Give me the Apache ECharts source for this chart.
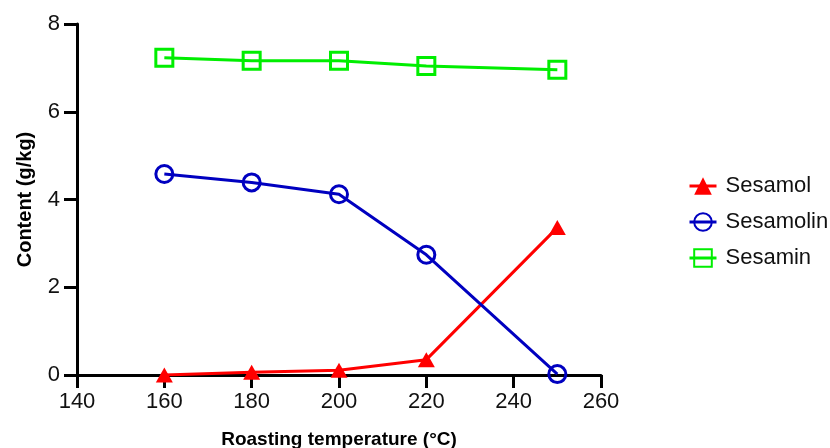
<!DOCTYPE html>
<html>
<head>
<meta charset="utf-8">
<script src="https://cdn.jsdelivr.net/npm/echarts@6/dist/echarts.min.js"></script>
<style>html,body{margin:0;padding:0;background:#fff;}#c{width:830px;height:448px;}</style>
</head>
<body>
<div id="c"></div>
<script>
const temperatures = [160, 180, 200, 220, 250];
const sesamol = [0.0, 0.06, 0.11, 0.35, 3.36];
const sesamolin = [4.58, 4.39, 4.12, 2.74, 0.02];
const sesamin = [7.23, 7.16, 7.16, 7.04, 6.96];
const seriesNames = ['Sesamol', 'Sesamolin', 'Sesamin'];
const xTitle = 'Roasting temperature (°C)';
const yTitle = 'Content (g/kg)';

const font = 'Liberation Sans, Arial, sans-serif';
const pairs = arr => temperatures.map((t, i) => [t, arr[i]]);

function mkSeries(name, data, color, symbol, size, filled) {
  return {
    name: name, type: 'line', data: pairs(data),
    symbol: symbol, symbolSize: size,
    lineStyle: { color: color, width: 3 },
    itemStyle: filled ? { color: color } : { color: 'rgba(255,255,255,0)', borderColor: color, borderWidth: 3 },
    emphasis: { disabled: true }, animation: false
  };
}

const chart = echarts.init(document.getElementById('c'));
chart.setOption({
  animation: false,
  grid: { left: 77, right: 229, top: 24, bottom: 73, containLabel: false, outerBoundsMode: 'none' },
  legend: {
    orient: 'vertical', left: 683, top: 170, itemGap: 14,
    itemWidth: 27, itemHeight: 22,
    lineStyle: { width: 3 },
    textStyle: { fontFamily: font, fontSize: 22, color: '#111', padding: [0, 0, 0, 4] },
    data: seriesNames
  },
  xAxis: {
    type: 'value', min: 140, max: 260, interval: 20,
    name: xTitle, nameLocation: 'middle', nameGap: 55,
    nameTextStyle: { fontFamily: font, fontSize: 19, fontWeight: 'bold', color: '#000' },
    axisLine: { lineStyle: { color: '#000', width: 3 } },
    axisTick: { length: 13, lineStyle: { color: '#000', width: 3 } },
    axisLabel: { fontFamily: font, fontSize: 22, color: '#111', margin: 16 },
    splitLine: { show: false }
  },
  yAxis: {
    type: 'value', min: 0, max: 8, interval: 2,
    name: yTitle, nameLocation: 'middle', nameGap: 42, nameRotate: 90,
    nameTextStyle: { fontFamily: font, fontSize: 20, fontWeight: 'bold', color: '#000' },
    axisLine: { show: true, lineStyle: { color: '#000', width: 3 } },
    axisTick: { show: true, length: 13, lineStyle: { color: '#000', width: 3 } },
    axisLabel: { fontFamily: font, fontSize: 22, color: '#111', margin: 17 },
    splitLine: { show: false }
  },
  series: [
    mkSeries(seriesNames[0], sesamol, '#ff0000', 'triangle', [17, 15], true),
    mkSeries(seriesNames[1], sesamolin, '#0000c0', 'circle', 17, false),
    mkSeries(seriesNames[2], sesamin, '#00ee00', 'rect', 17, false)
  ]
});
</script>
</body>
</html>
